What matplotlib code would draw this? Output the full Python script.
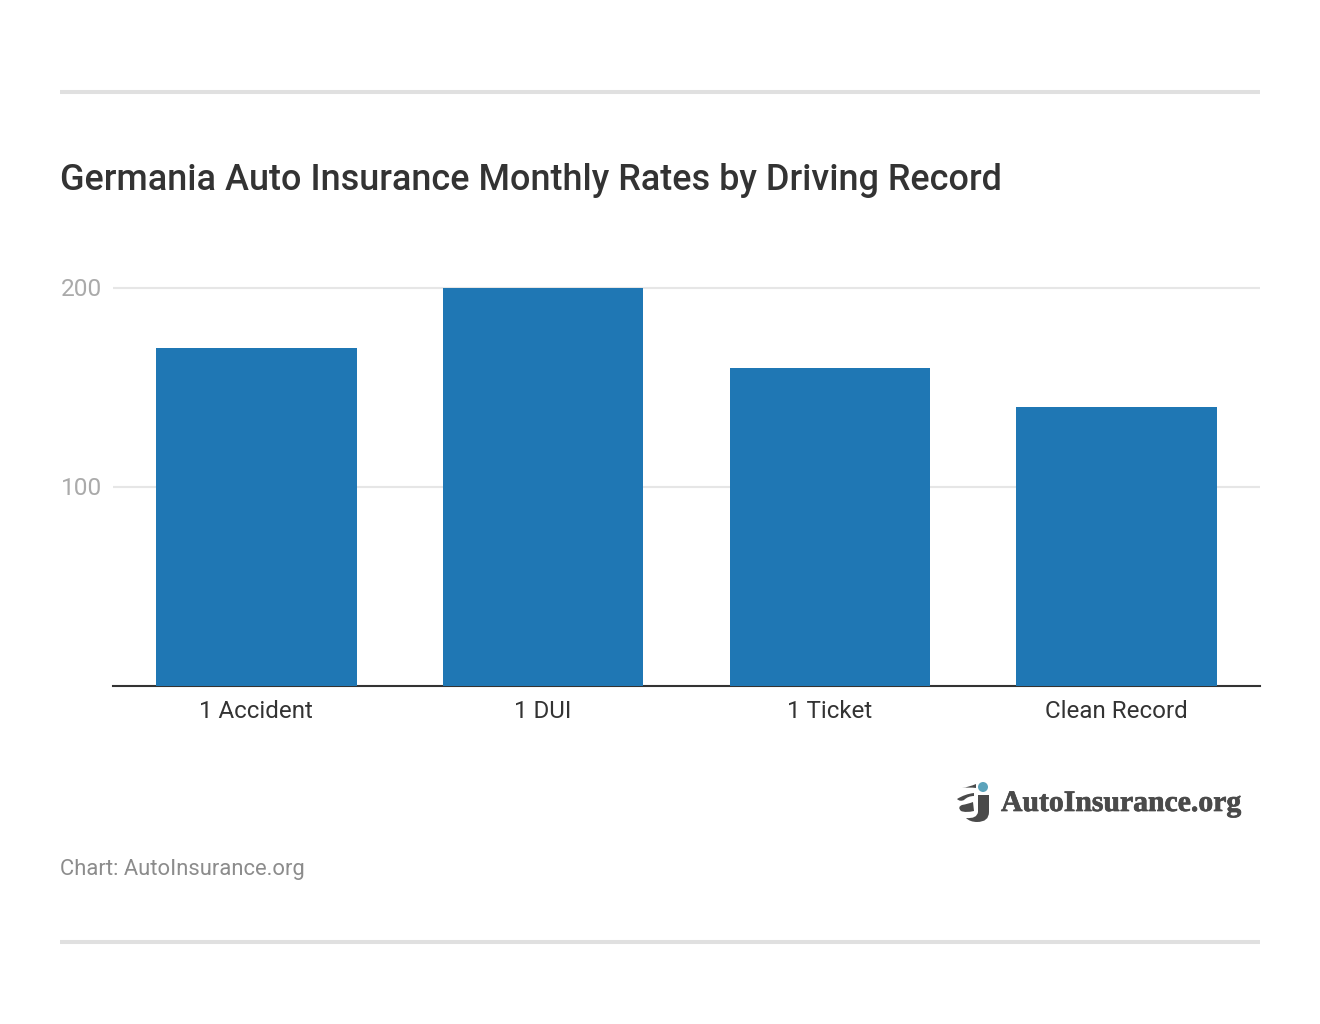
import matplotlib
matplotlib.use("Agg")
import matplotlib.pyplot as plt
import matplotlib.patheffects as pe
from matplotlib.patches import Ellipse, PathPatch
from matplotlib.path import Path
from matplotlib.transforms import ScaledTranslation

categories = ["1 Accident", "1 DUI", "1 Ticket", "Clean Record"]
rates = [170, 200, 160, 140]
yticks = [100, 200]

W, H = 1320, 1024
plt.rcParams['font.family'] = ['Roboto', 'DejaVu Sans']
fig = plt.figure(figsize=(W/100, H/100), dpi=100, facecolor='white')

def fx(x): return x/W
def fy(y): return 1-y/H

# rules
for y in (92, 941.5):
    fig.add_artist(plt.Line2D([fx(60), fx(1260)], [fy(y), fy(y)], color='#e0e0e0', lw=2.9, solid_capstyle='butt'))

fig.text(fx(60), fy(180), "Germania Auto Insurance Monthly Rates by Driving Record",
         fontsize=25.88, fontweight='medium', color='#333333', va='center', ha='left')
fig.text(fx(60), fy(869), "Chart: AutoInsurance.org", fontsize=15.8, color='#8c8c8c', va='center', ha='left')

left, right, top, bottom = 113, 1260, 288, 686
ax = fig.add_axes([fx(left), fy(bottom), (right-left)/W, (bottom-top)/H])
ax.set_xlim(-0.5, 3.5)
ax.set_ylim(0, 200)
ax.bar(range(4), rates, width=0.7, color='#1f77b4', zorder=3)
ax.set_yticks(yticks)
ax.set_xticks(range(4))
ax.set_xticklabels(categories, fontsize=17.35, color='#333333')
ax.tick_params(axis='x', length=0, pad=10.3)
ax.tick_params(axis='y', length=0, pad=7.6, labelsize=17.6, labelcolor='#aaaaaa')
ax.grid(axis='y', color='#e6e6e6', lw=1.5, zorder=0)
ax.set_axisbelow(True)
for g in ax.get_ygridlines():
    g.set_clip_on(False)
    g.set_solid_capstyle('butt')
up = ScaledTranslation(0, 1/100, fig.dpi_scale_trans)
for lab in ax.get_yticklabels():
    lab.set_transform(lab.get_transform() + up)
for s in ('top', 'left', 'right'):
    ax.spines[s].set_visible(False)
ax.spines['bottom'].set_color('#333333')
ax.spines['bottom'].set_linewidth(1.5)

# logo
logo = '#4a4a4a'
fig.text(fx(1001), fy(803.5), "AutoInsurance.org", fontsize=21.4, fontweight='bold',
         family=['Liberation Serif', 'DejaVu Serif'], color=logo, va='center', ha='left',
         path_effects=[pe.withStroke(linewidth=0.5, foreground=logo)])

M, L, C, Z = Path.MOVETO, Path.LINETO, Path.CURVE3, Path.CLOSEPOLY
def shape(segs, c=logo):
    verts, codes = [], []
    for code, pts in segs:
        for x, y in pts:
            verts.append((fx(x), fy(y)))
            codes.append(code)
    verts.append(verts[0]); codes.append(Z)
    fig.add_artist(PathPatch(Path(verts, codes), transform=fig.transFigure, facecolor=c, edgecolor='none'))

# swoosh over the 'a'
shape([(M, [(962, 788)]), (C, [(969, 787), (976, 784)]), (L, [(976, 788)]), (C, [(969, 787), (962, 788)])])
# top stroke of the 'a'
shape([(M, [(957, 799)]), (C, [(965, 794), (974, 793)]), (L, [(974, 796)]), (C, [(968, 796), (964, 800)]), (C, [(960, 802), (957, 799)])])
# bowl of the 'a'
shape([(M, [(973, 802)]), (L, [(974, 811)]), (C, [(966, 813), (961, 811)]), (C, [(957, 807), (962, 805)]), (C, [(968, 804), (973, 802)])])
# stem and tail of the 'j'
shape([(M, [(978, 795)]), (L, [(989, 795)]), (L, [(989, 812)]), (C, [(989, 822), (977, 822)]), (C, [(970, 822), (966, 818)]),
       (C, [(977, 819), (978, 812)])])
fig.add_artist(Ellipse((fx(983), fy(787)), 10/W, 10/H, transform=fig.transFigure, facecolor='#5ba3bb', edgecolor='none'))

fig.savefig("out.png", dpi=100, facecolor='white')
